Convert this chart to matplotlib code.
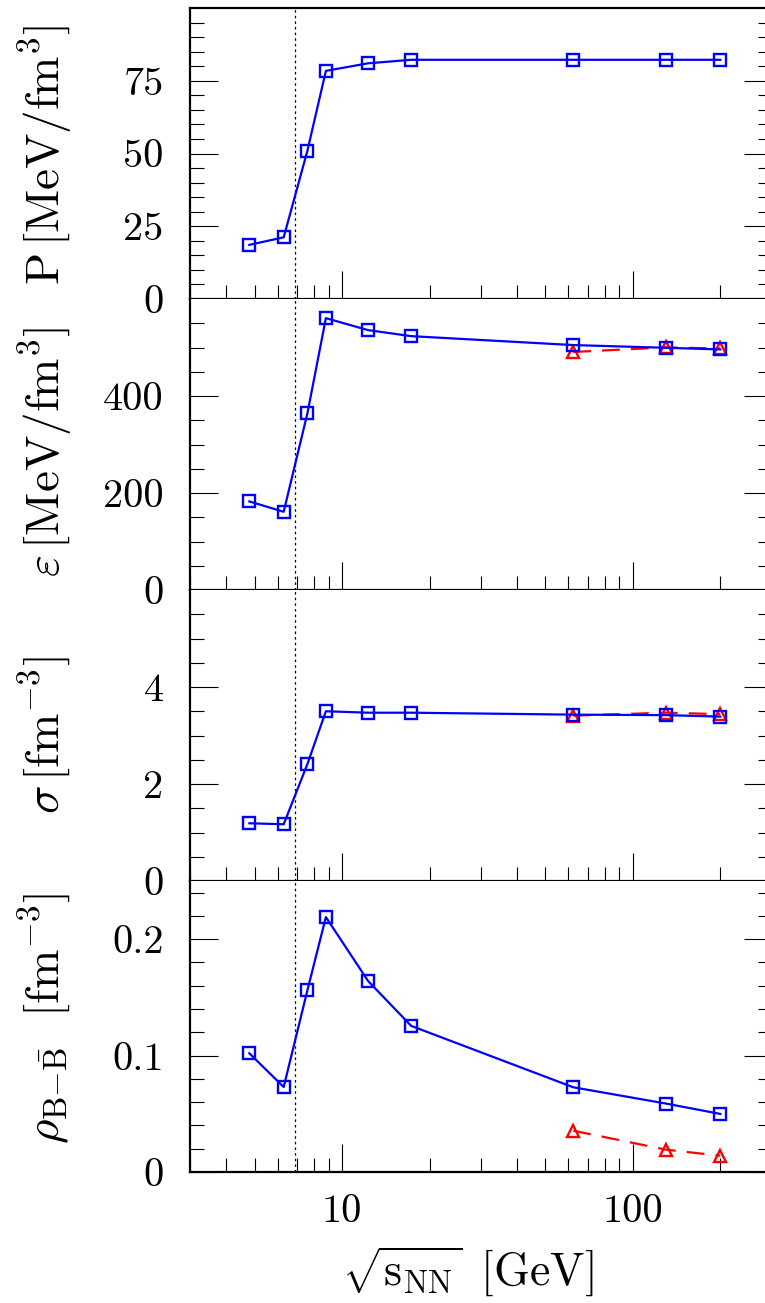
import numpy as np
import matplotlib
matplotlib.use("Agg")
import matplotlib.pyplot as plt
from matplotlib.ticker import FixedLocator, NullFormatter

plt.rcParams["font.family"] = "serif"
plt.rcParams["font.serif"] = ["cmr10"]
plt.rcParams["mathtext.fontset"] = "cm"
plt.rcParams["axes.unicode_minus"] = False

# collision energies
sqrt_s = [4.8, 6.3, 7.6, 8.8, 12.3, 17.3, 62.4, 130.0, 200.0]
sqrt_s_rhic = [62.4, 130.0, 200.0]

# freeze-out quantities, full set (squares)
pressure = [18.6, 21.2, 50.9, 78.4, 81.0, 82.2, 82.2, 82.2, 82.2]
energy_density = [182.6, 161.3, 364.0, 560.5, 535.8, 523.4, 505.0, 499.4, 496.0]
entropy_density = [1.19, 1.17, 2.41, 3.50, 3.47, 3.47, 3.43, 3.42, 3.39]
net_baryon = [0.102, 0.073, 0.156, 0.219, 0.164, 0.1255, 0.0728, 0.0588, 0.0499]

# RHIC alternative fit (triangles)
energy_density_rhic = [490.8, 500.2, 498.0]
entropy_density_rhic = [3.41, 3.47, 3.44]
net_baryon_rhic = [0.0355, 0.0192, 0.014]

x_mark = 6.9

panels = [
    dict(y=pressure, y2=None, ylim=100, major=[0, 25, 50, 75],
         minor=np.arange(5, 100, 5), yc=155,
         label=r"$\mathrm{P}\,[\mathrm{MeV/fm}^3]$"),
    dict(y=energy_density, y2=energy_density_rhic, ylim=600, major=[0, 200, 400],
         minor=np.arange(50, 600, 50), yc=452,
         label=r"$\varepsilon\,[\mathrm{MeV/fm}^3]$"),
    dict(y=entropy_density, y2=entropy_density_rhic, ylim=6, major=[0, 2, 4],
         minor=np.arange(0.5, 6, 0.5), yc=735,
         label=r"$\sigma\,[\mathrm{fm}^{-3}]$"),
    dict(y=net_baryon, y2=net_baryon_rhic, ylim=0.25, major=[0, 0.1, 0.2],
         minor=np.arange(0.02, 0.25, 0.02), yc=1018,
         label=r"$\rho_{\mathrm{B{-}\bar{B}}}\ \ [\mathrm{fm}^{-3}]$"),
]

W, H = 765, 1303
fig = plt.figure(figsize=(W / 100, H / 100), dpi=100)

left, right = 190, 771.5
bottom, ph = 1172, 291

for i, p in enumerate(panels):
    y0 = bottom - (3 - i) * ph
    ax = fig.add_axes([left / W, 1 - y0 / H, (right - left) / W, ph / H])
    ax.set_xscale("log")
    ax.set_xlim(3, 300)
    ax.set_ylim(0, p["ylim"])

    ax.axvline(x_mark, color="black", lw=0.9, ls=(0, (2, 2.5)), zorder=1)
    ax.plot(sqrt_s, p["y"], color="blue", lw=1.6, marker="s", ms=8.5,
            mfc="none", mec="blue", mew=1.7, zorder=3)
    if p["y2"] is not None:
        ax.plot(sqrt_s_rhic, p["y2"], color="red", lw=1.6, dashes=(8, 5),
                marker="^", ms=9, mfc="none", mec="red", mew=1.7, zorder=2)

    for s in ax.spines.values():
        s.set_linewidth(1.6)
    ax.spines["top"].set_visible(i == 0)

    ax.set_yticks(p["major"], ["{:g}".format(v) for v in p["major"]])
    ax.yaxis.set_minor_locator(FixedLocator(p["minor"]))
    ax.tick_params(axis="y", which="both", direction="in", left=True, right=True,
                   width=0.8, labelsize=29, pad=19)
    ax.tick_params(axis="y", which="major", length=20)
    ax.tick_params(axis="y", which="minor", length=10)

    ax.set_xticks([10, 100])
    ax.xaxis.set_minor_locator(FixedLocator(
        [3, 4, 5, 6, 7, 8, 9, 20, 30, 40, 50, 60, 70, 80, 90, 200]))
    ax.xaxis.set_minor_formatter(NullFormatter())
    ax.tick_params(axis="x", which="both", direction="in", top=False, bottom=True,
                   width=0.8, labelsize=29, pad=16)
    ax.tick_params(axis="x", which="major", length=20)
    ax.tick_params(axis="x", which="minor", length=10)
    if i < 3:
        ax.tick_params(axis="x", which="both", labelbottom=False)
    else:
        ax.set_xticklabels(["10", "100"])

    fig.text(45 / W, 1 - p["yc"] / H, p["label"], rotation=90,
             ha="center", va="center", fontsize=34)

fig.text(468 / W, 1 - 1272 / H, r"$\sqrt{\mathrm{s}_{\mathrm{NN}}}\ \,[\mathrm{GeV}]$",
         ha="center", va="center", fontsize=33)

fig.savefig("out.png", dpi=100)
